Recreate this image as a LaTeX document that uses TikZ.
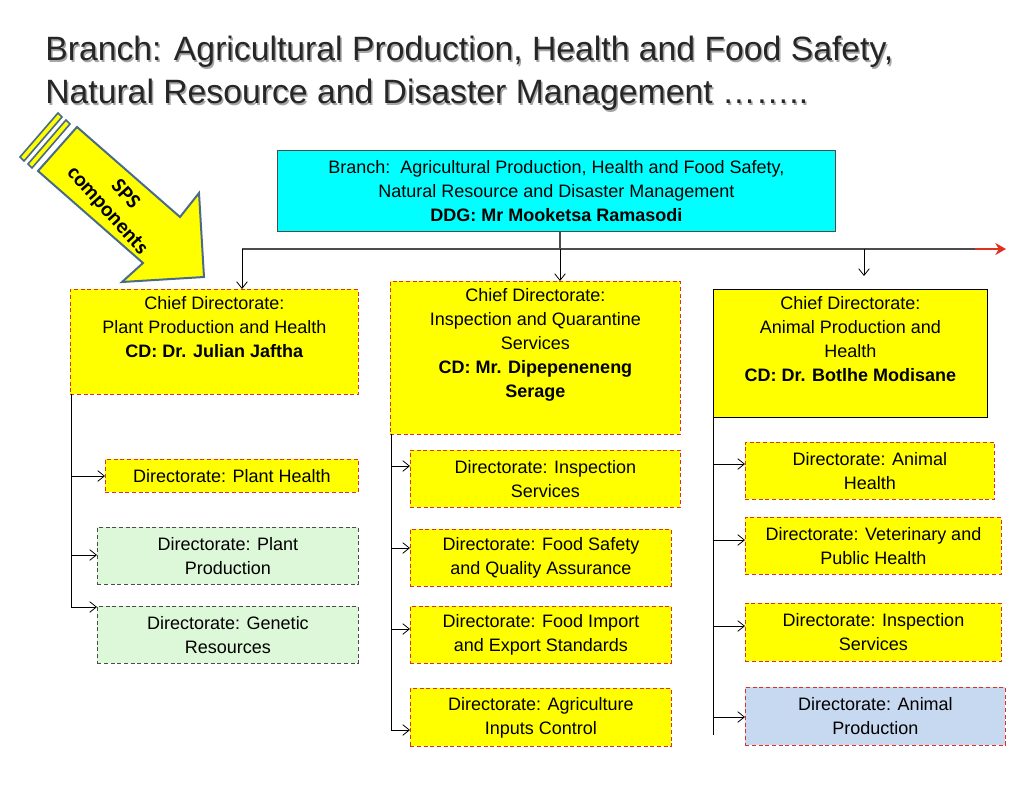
\documentclass[tikz,border=0pt]{standalone}
\usepackage{fontspec}
\setmainfont{Liberation Sans}
\newfontfamily\calib{Carlito}
\usetikzlibrary{arrows.meta}
\definecolor{yel}{HTML}{FFFF00}
\definecolor{cyanb}{HTML}{00FFFF}
\definecolor{grn}{HTML}{DDF8D8}
\definecolor{blu}{HTML}{C6D9F0}
\definecolor{dred}{HTML}{E03020}
\definecolor{arrbd}{HTML}{4A6A8A}
\tikzset{
 bx/.style={inner sep=0pt,align=center,font=\fontsize{13.5}{18}\selectfont,anchor=north west},
 lbl/.style={inner sep=0pt,align=center,font=\fontsize{13.5}{18}\selectfont,anchor=north},
 rdash/.style={draw=dred,densely dashed,line width=0.6pt,fill=yel},
 gdash/.style={draw=black!70,densely dashed,line width=0.6pt,fill=grn},
 arr/.style={-{Straight Barb[length=5pt,width=8pt]},line width=0.6pt},
}
\newcommand{\bx}[7]{\node[bx,#6,minimum width={(#4-#2)*0.75pt},minimum height={(#5-#3)*0.75pt}] (#1) at (#2,#3) {#7};}
\begin{document}
\begin{tikzpicture}[x=0.75pt,y=-0.75pt]
\useasboundingbox (0,0) rectangle (1024,808);
% title
\foreach \dx/\c in {1.5/black!35,0/black!85}{
\node[anchor=west,font=\fontsize{25.3}{30}\selectfont,text=\c,inner sep=0pt] at (45+\dx,52+\dx) {Branch: Agricultural Production, Health and Food Safety,};
\node[anchor=west,font=\fontsize{25.3}{30}\selectfont,text=\c,inner sep=0pt] at (45+\dx,95+\dx) {Natural Resource and Disaster Management ……..};}
% SPS arrow
\fill[yel,draw=arrbd,line width=1.2pt] (20,157)--(58,113)--(62,117)--(24,161)--cycle;
\fill[yel,draw=arrbd,line width=1.2pt] (28,164)--(66,120)--(70,124)--(32,168)--cycle;
\fill[yel,draw=arrbd,line width=1.5pt] (38,171)--(77,127)--(180,217)--(199,193)--(204,277)--(122,282)--(143,263)--cycle;
\node[rotate=-48,font=\calib\bfseries\fontsize{16}{18}\selectfont,align=center,inner sep=0pt] (sps) at (116,203) {SPS\\components};
% top box
\bx{top}{277}{150}{835}{231}{draw=black!70,fill=cyanb,line width=0.6pt}{Branch:\ \ Agricultural Production, Health and Food Safety,\\Natural Resource and Disaster Management\\\textbf{DDG: Mr Mooketsa Ramasodi}}
\coordinate (hl) at (242,249);
\coordinate (hr) at (975,249);
\coordinate (hm) at (560,249);
\draw[black!70,line width=0.8pt] (hl)--(hr);
\draw[black!70,line width=0.8pt] (top.south -| hm)--(hm);
\draw[dred,line width=2pt,-{Stealth[length=8pt,width=9pt]}] (hr)--(1006,249);
% chief directorates
\bx{cd1}{70}{289}{358}{394}{rdash}{}
\bx{cd2}{390}{281}{680}{434}{rdash}{}
\bx{cd3}{713}{289}{987}{417}{draw=black,fill=yel,line width=0.6pt}{}
\node[lbl] (t1) at ([yshift=-5.5pt]cd1.north) {Chief Directorate:\\Plant Production and Health\\\textbf{CD: Dr. Julian Jaftha}};
\node[lbl] (t2) at ([yshift=-5.5pt]cd2.north) {Chief Directorate:\\Inspection and Quarantine\\Services\\\textbf{CD: Mr. Dipepeneneng}\\\textbf{Serage}};
\node[lbl] (t3) at ([yshift=-5.5pt]cd3.north) {Chief Directorate:\\Animal Production and\\Health\\\textbf{CD: Dr. Botlhe Modisane}};
\draw[arr] (hl)--(hl|-cd1.north);
\draw[arr] (hm)--(hm|-cd2.north);
\draw[arr] (864,249)--(864,276);
% left directorates
\bx{d11}{105}{459}{358}{492}{rdash}{Directorate: Plant Health}
\bx{d12}{97}{527}{358}{584}{gdash}{Directorate: Plant\\Production}
\bx{d13}{97}{606}{358}{663}{gdash}{Directorate: Genetic\\Resources}
\draw[line width=0.6pt] (71,394)--(71,607);
\foreach \n/\y in {d11/476,d12/555,d13/607}{\draw[arr] (71,\y)--(\n.west|-0,\y);}
% middle
\bx{d21}{410}{450}{680}{507}{rdash}{Directorate: Inspection\\Services}
\bx{d22}{410}{529}{671}{586}{rdash}{Directorate: Food Safety\\and Quality Assurance}
\bx{d23}{410}{606}{671}{663}{rdash}{Directorate: Food Import\\and Export Standards}
\bx{d24}{410}{688}{671}{746}{rdash}{Directorate: Agriculture\\Inputs Control}
\draw[line width=0.6pt] (391,434)--(391,730);
\foreach \n/\y in {d21/466,d22/548,d23/629,d24/730}{\draw[arr] (391,\y)--(\n.west|-0,\y);}
% right
\bx{d31}{745}{442}{994}{499}{rdash}{Directorate: Animal\\Health}
\bx{d32}{745}{517}{1001}{574}{rdash}{Directorate: Veterinary and\\Public Health}
\bx{d33}{745}{603}{1001}{661}{rdash}{Directorate: Inspection\\Services}
\bx{d34}{745}{687}{1005}{745}{draw=dred,densely dashed,line width=0.6pt,fill=blu}{Directorate: Animal\\Production}
\draw[line width=0.6pt] (713,417)--(713,735);
\foreach \n/\y in {d31/464,d32/540,d33/626,d34/717}{\draw[arr] (713,\y)--(\n.west|-0,\y);}
\end{tikzpicture}
\end{document}
